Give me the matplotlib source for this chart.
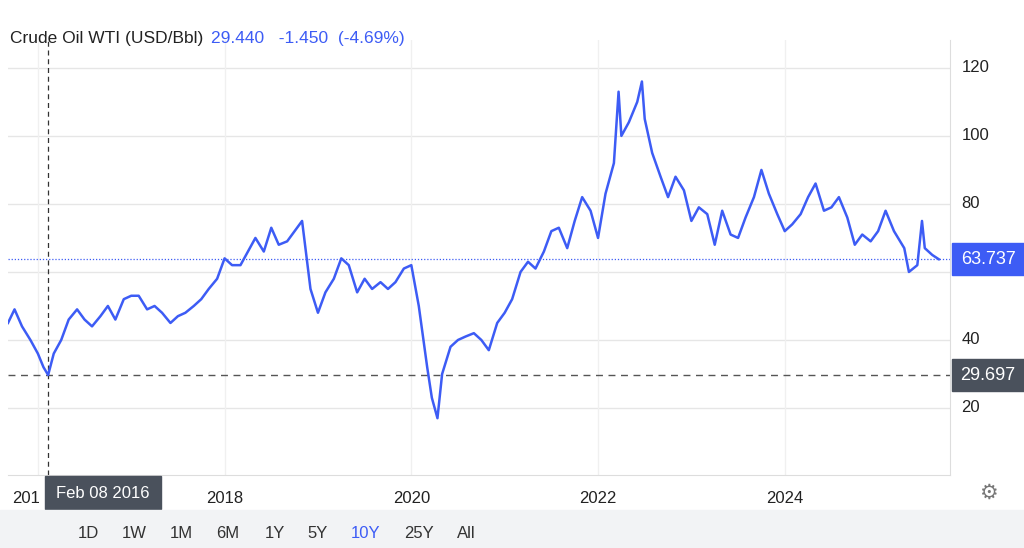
import matplotlib
matplotlib.use("Agg")
import matplotlib.pyplot as plt
from matplotlib.patches import Rectangle

plt.rcParams['font.family'] = ['Liberation Sans', 'DejaVu Sans']

dates = [2015.68, 2015.75, 2015.83, 2015.92, 2016.0, 2016.06, 2016.11, 2016.17, 2016.25, 2016.33, 2016.42, 2016.5,
         2016.58, 2016.67, 2016.75, 2016.83, 2016.92, 2017.0, 2017.08, 2017.17, 2017.25, 2017.33, 2017.42, 2017.5,
         2017.58, 2017.67, 2017.75, 2017.83, 2017.92, 2018.0, 2018.08, 2018.17, 2018.25, 2018.33, 2018.42, 2018.5,
         2018.58, 2018.67, 2018.75, 2018.83, 2018.92, 2019.0, 2019.08, 2019.17, 2019.25, 2019.33, 2019.42, 2019.5,
         2019.58, 2019.67, 2019.75, 2019.83, 2019.92, 2020.0, 2020.08, 2020.17, 2020.22, 2020.28, 2020.33, 2020.42, 2020.5,
         2020.58, 2020.67, 2020.75, 2020.83, 2020.92, 2021.0, 2021.08, 2021.17, 2021.25, 2021.33, 2021.42, 2021.5,
         2021.58, 2021.67, 2021.75, 2021.83, 2021.92, 2022.0, 2022.08, 2022.17, 2022.22, 2022.25, 2022.33, 2022.42, 2022.47,
         2022.5, 2022.58, 2022.67, 2022.75, 2022.83, 2022.92, 2023.0, 2023.08, 2023.17, 2023.25, 2023.33, 2023.42, 2023.5,
         2023.58, 2023.67, 2023.75, 2023.83, 2023.92, 2024.0, 2024.08, 2024.17, 2024.25, 2024.33, 2024.42, 2024.5,
         2024.58, 2024.67, 2024.75, 2024.83, 2024.92, 2025.0, 2025.08, 2025.17, 2025.28, 2025.33, 2025.42, 2025.47,
         2025.5, 2025.58, 2025.65]
prices = [45, 49, 44, 40, 36, 32, 29.7, 36, 40, 46, 49, 46,
          44, 47, 50, 46, 52, 53, 53, 49, 50, 48, 45, 47,
          48, 50, 52, 55, 58, 64, 62, 62, 66, 70, 66, 73,
          68, 69, 72, 75, 55, 48, 54, 58, 64, 62, 54, 58,
          55, 57, 55, 57, 61, 62, 50, 32, 23, 17, 30, 38, 40,
          41, 42, 40, 37, 45, 48, 52, 60, 63, 61, 66, 72,
          73, 67, 75, 82, 78, 70, 83, 92, 113, 100, 104, 110, 116,
          105, 95, 88, 82, 88, 84, 75, 79, 77, 68, 78, 71, 70,
          76, 82, 90, 83, 77, 72, 74, 77, 82, 86, 78, 79,
          82, 76, 68, 71, 69, 72, 78, 72, 67, 60, 62, 75,
          67, 65, 63.737]

ytick_vals = [20, 40, 60, 80, 100, 120]
ytick_labels = ['20', '40', '', '80', '100', '120']
xtick_vals = [2018, 2020, 2022, 2024]
xtick_labels = ['2018', '2020', '2022', '2024']
last_price = 63.737
cross_price = 29.697
cross_date = 2016.105
buttons = ['1D', '1W', '1M', '6M', '1Y', '5Y', '10Y', '25Y', 'All']

W, H = 1024, 548
fig = plt.figure(figsize=(W/100, H/100), dpi=100)
blue = '#3d5cf5'
ax = fig.add_axes([8/W, 1-475/H, (950-8)/W, (475-40)/H])
ax.set_xlim(2015.68, 2025.77)
ax.set_ylim(0.3, 128.2)
for v in ytick_vals:
    ax.axhline(v, color='#e6e6e6', lw=1, zorder=0)
for v in [2016] + xtick_vals:
    ax.axvline(v, color='#f0f0f0', lw=1, zorder=0)
ax.plot(dates, prices, color=blue, lw=1.8, zorder=3)
ax.axhline(last_price, color=blue, lw=0.9, ls=(0, (1, 1.5)), zorder=2)
ax.axhline(cross_price, color='#555555', lw=1, ls=(0, (5, 4)), zorder=2)
ax.axvline(cross_date, color='#333333', lw=0.9, ls=(0, (4, 3)), zorder=2)
for s in ['top', 'left']:
    ax.spines[s].set_visible(False)
ax.spines['right'].set_color('#dddddd')
ax.spines['bottom'].set_color('#dddddd')
ax.set_xticks([]); ax.set_yticks([])
for v, l in zip(ytick_vals, ytick_labels):
    ax.text(1.012, v, l, transform=ax.get_yaxis_transform(), va='center', ha='left', fontsize=12, color='#222222')
for v, l in zip(xtick_vals, xtick_labels):
    ax.text(v, -0.055, l, transform=ax.get_xaxis_transform(), va='center', ha='center', fontsize=12, color='#222222')
ax.text(2015.72, -0.055, '201', transform=ax.get_xaxis_transform(), va='center', ha='left', fontsize=12, color='#222222', clip_on=False)

def ypix(v):
    return ax.transData.transform((0, v))[1] / H
bx = 952/W
fig.patches.append(Rectangle((bx, ypix(last_price)-16/H), 72/W, 32/H, transform=fig.transFigure, color=blue))
fig.text(bx+36/W, ypix(last_price), f'{last_price:.3f}', color='white', fontsize=13, ha='center', va='center')
fig.patches.append(Rectangle((bx, ypix(cross_price)-16/H), 72/W, 32/H, transform=fig.transFigure, color='#4a515c'))
fig.text(bx+36/W, ypix(cross_price), f'{cross_price:.3f}', color='white', fontsize=13, ha='center', va='center')
fig.patches.append(Rectangle((45/W, 1-509/H), 116/W, 33/H, transform=fig.transFigure, color='#4a515c'))
fig.text(103/W, 1-493/H, 'Feb 08 2016', color='white', fontsize=12, ha='center', va='center')
fig.patches.append(Rectangle((0, 0), 1, 38/H, transform=fig.transFigure, color='#f2f3f5'))
bxs = [88, 134, 181, 228, 275, 318, 366, 419, 466]
for x, b in zip(bxs, buttons):
    fig.text(x/W, 1-533/H, b, fontsize=12, ha='center', va='center', color=blue if b == '10Y' else '#333333')
fig.text(988/W, 1-493/H, '⚙', fontsize=15, ha='center', va='center', color='#777777')
fig.text(10/W, 1-38/H, 'Crude Oil WTI (USD/Bbl)', fontsize=12.5, ha='left', va='center', color='#222222')
fig.text(211/W, 1-38/H, '29.440   -1.450  (-4.69%)', fontsize=12.5, ha='left', va='center', color=blue)
fig.savefig('out.png', dpi=100)
